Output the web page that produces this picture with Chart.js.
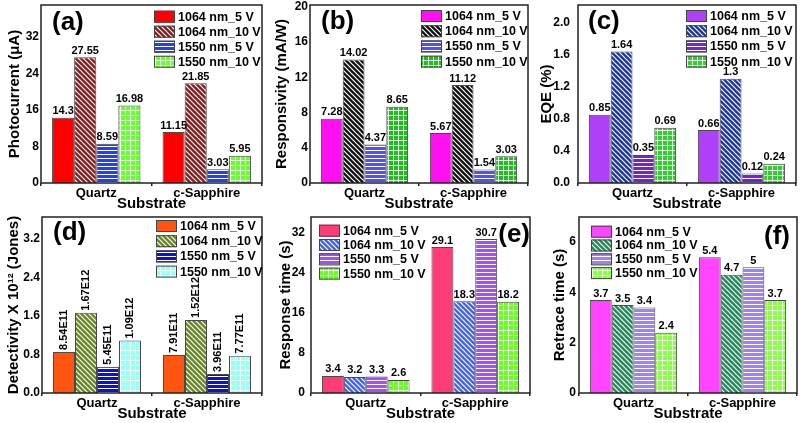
<!DOCTYPE html>
<html><head><meta charset="utf-8">
<script src="https://cdn.jsdelivr.net/npm/chart.js@4.4.1/dist/chart.umd.min.js"></script>
<style>
html,body{margin:0;padding:0;background:#fff;width:800px;height:423px;overflow:hidden;position:relative}
canvas{position:absolute}
</style></head><body>
<canvas id="pa" width="268" height="212" style="left:0px;top:0px"></canvas>
<canvas id="pb" width="264" height="212" style="left:268px;top:0px"></canvas>
<canvas id="pc" width="268" height="212" style="left:532px;top:0px"></canvas>
<canvas id="pd" width="268" height="212" style="left:0px;top:210px"></canvas>
<canvas id="pe" width="264" height="212" style="left:268px;top:210px"></canvas>
<canvas id="pf" width="268" height="212" style="left:532px;top:210px"></canvas>
<script>
// ---------- DATA ----------
const categories = ['Quartz', 'c-Sapphire'];
const seriesNames = ['1064 nm_5 V', '1064 nm_10 V', '1550 nm_5 V', '1550 nm_10 V'];

// (a) Photocurrent (μA)
const photocurrent1064nm5V  = [14.3, 11.15];
const photocurrent1064nm10V = [27.55, 21.85];
const photocurrent1550nm5V  = [8.59, 3.03];
const photocurrent1550nm10V = [16.98, 5.95];
const photocurrentTicks = [0, 8, 16, 24, 32];

// (b) Responsivity (mA/W)
const responsivity1064nm5V  = [7.28, 5.67];
const responsivity1064nm10V = [14.02, 11.12];
const responsivity1550nm5V  = [4.37, 1.54];
const responsivity1550nm10V = [8.65, 3.03];
const responsivityTicks = [0, 4, 8, 12, 16, 20];

// (c) EQE (%)
const eqe1064nm5V  = [0.85, 0.66];
const eqe1064nm10V = [1.64, 1.3];
const eqe1550nm5V  = [0.35, 0.12];
const eqe1550nm10V = [0.69, 0.24];
const eqeTicks = [0.0, 0.4, 0.8, 1.2, 1.6, 2.0];

// (d) Detectivity (Jones)
const detectivity1064nm5V  = [8.54e11, 7.91e11];
const detectivity1064nm10V = [1.67e12, 1.52e12];
const detectivity1550nm5V  = [5.45e11, 3.96e11];
const detectivity1550nm10V = [1.09e12, 7.77e11];
const detectivityTicks = [0.0, 0.8, 1.6, 2.4, 3.2];

// (e) Response time (s)
const response1064nm5V  = [3.4, 29.1];
const response1064nm10V = [3.2, 18.3];
const response1550nm5V  = [3.3, 30.7];
const response1550nm10V = [2.6, 18.2];
const responseTicks = [0, 8, 16, 24, 32];

// (f) Retrace time (s)
const retrace1064nm5V  = [3.7, 5.4];
const retrace1064nm10V = [3.5, 4.7];
const retrace1550nm5V  = [3.4, 5.0];
const retrace1550nm10V = [2.4, 3.7];
const retraceTicks = [0, 2, 4, 6];

// ---------- HELPERS ----------
const FONT = '"Liberation Sans", Arial, Helvetica, sans-serif';
Chart.defaults.font.family = FONT;
Chart.defaults.color = '#000';

function makeFill(color, kind) {
  if (kind === 'solid') return color;
  const c = document.createElement('canvas');
  const x = c.getContext('2d');
  if (kind === 'diag') {
    const s = 5; c.width = s; c.height = s;
    x.fillStyle = color; x.fillRect(0, 0, s, s);
    x.strokeStyle = '#fff'; x.lineWidth = 1.2;
    x.beginPath();
    x.moveTo(-1, -1); x.lineTo(s + 1, s + 1);
    x.moveTo(-1, s - 1); x.lineTo(1, s + 1);
    x.moveTo(s - 1, -1); x.lineTo(s + 1, 1);
    x.stroke();
  } else if (kind === 'hline') {
    c.width = 4; c.height = 4;
    x.fillStyle = color; x.fillRect(0, 0, 4, 4);
    x.fillStyle = '#fff'; x.fillRect(0, 2, 4, 1);
  } else if (kind === 'grid') {
    c.width = 5; c.height = 5;
    x.fillStyle = color; x.fillRect(0, 0, 5, 5);
    x.fillStyle = 'rgba(255,255,255,0.85)'; x.fillRect(0, 0, 5, 1); x.fillRect(0, 1, 1, 4);
  }
  return x.createPattern(c, 'repeat');
}

const decorPlugin = {
  id: 'decor',
  afterDatasetsDraw(chart) {
    const o = chart.options.plugins.decor;
    const ctx = chart.ctx, ca = chart.chartArea;
    ctx.save();
    // value labels
    ctx.fillStyle = '#000';
    ctx.font = 'bold 11px ' + FONT;
    chart.data.datasets.forEach((ds, di) => {
      const meta = chart.getDatasetMeta(di);
      meta.data.forEach((bar, i) => {
        const txt = ds.valueLabels[i];
        if (o.rotateLabels) {
          ctx.save();
          ctx.translate(bar.x, bar.y - 2);
          ctx.rotate(-Math.PI / 2);
          ctx.textAlign = 'left'; ctx.textBaseline = 'middle';
          ctx.fillText(txt, 0, 0);
          ctx.restore();
        } else {
          ctx.textAlign = 'center'; ctx.textBaseline = 'bottom';
          ctx.fillText(txt, bar.x, bar.y - 1);
        }
      });
    });
    // frame
    ctx.strokeStyle = '#222'; ctx.lineWidth = 1.5;
    ctx.strokeRect(ca.left, ca.top, ca.right - ca.left, ca.bottom - ca.top);
    // legend
    const L = o.legend;
    ctx.font = 'bold 12.5px ' + FONT;
    ctx.textAlign = 'left'; ctx.textBaseline = 'middle';
    chart.data.datasets.forEach((ds, di) => {
      const bx = ca.left + L.x, yc = ca.top + L.y + di * L.gap;
      ctx.fillStyle = ds.backgroundColor;
      ctx.fillRect(bx, yc - 6, 21, 12);
      ctx.strokeStyle = '#444'; ctx.lineWidth = 1;
      ctx.strokeRect(bx + 0.5, yc - 5.5, 20, 11);
      ctx.fillStyle = '#000';
      ctx.fillText(ds.label, bx + 24, yc + 0.5);
    });
    // panel letter
    ctx.font = 'bold 26px ' + FONT;
    ctx.textBaseline = 'middle';
    if (o.letterAlign === 'right') {
      ctx.textAlign = 'right';
      ctx.fillText(o.letter, ca.right - o.letterX, ca.top + o.letterY);
    } else {
      ctx.textAlign = 'left';
      ctx.fillText(o.letter, ca.left + o.letterX, ca.top + o.letterY);
    }
    ctx.restore();
  }
};

function buildChart(p) {
  const datasets = p.series.map((vals, i) => ({
    label: seriesNames[i],
    data: vals.map(v => v / (p.scaleDiv || 1)),
    valueLabels: vals.map(p.fmt),
    backgroundColor: makeFill(p.colors[i], p.kinds[i]),
    borderColor: '#4a4a4a',
    borderWidth: 1,
    barPercentage: 1.0,
    categoryPercentage: 0.8
  }));
  return new Chart(document.getElementById(p.id), {
    type: 'bar',
    data: { labels: categories, datasets },
    plugins: [decorPlugin],
    options: {
      responsive: false, animation: false, devicePixelRatio: 1,
      layout: { padding: { left: 0, top: p.padTop, right: p.padRight, bottom: 0 } },
      plugins: {
        legend: { display: false }, tooltip: { enabled: false },
        decor: { legend: p.legend, letter: p.letter, letterX: p.letterX, letterY: p.letterY,
                 letterAlign: p.letterAlign || 'left', rotateLabels: !!p.rotateLabels }
      },
      scales: {
        x: {
          grid: { display: true, drawOnChartArea: false, drawTicks: true, tickLength: 3, color: '#222', lineWidth: 1.5, offset: true },
          border: { display: false },
          ticks: { font: { size: 13, weight: 'bold' }, padding: 0, color: '#000', maxRotation: 0 },
          title: { display: true, text: 'Substrate', font: { size: 15, weight: 'bold', lineHeight: 1 }, padding: { top: 0, bottom: 0.5 }, color: '#000' },
          afterFit: s => { s.height = 29; s.paddingLeft = 0; s.paddingRight = 0; }
        },
        y: {
          min: 0, max: p.yMax,
          grid: { display: false, drawTicks: false },
          border: { display: false },
          afterBuildTicks: s => { s.ticks = p.ticks.map(v => ({ value: v })); },
          ticks: { font: { size: 12, weight: 'bold' }, padding: p.tickPad, color: '#000',
                   callback: v => v.toFixed(p.tickDec) },
          title: { display: true, text: p.yTitle, font: { size: 15, weight: 'bold', lineHeight: 1 }, padding: { top: p.titlePad, bottom: 0 }, color: '#000' },
          afterFit: s => { s.width = p.yWidth; s.paddingTop = 0; s.paddingBottom = 0; }
        }
      }
    }
  });
}

const str = v => String(v);
const sci = v => v.toExponential(2).toUpperCase().replace('+', '');

buildChart({ id: 'pa', padTop: 5, padRight: 6, yWidth: 41, yMax: 39, ticks: photocurrentTicks, tickDec: 0, tickPad: 2,
  yTitle: 'Photocurrent (μA)', titlePad: 7.5, fmt: str,
  series: [photocurrent1064nm5V, photocurrent1064nm10V, photocurrent1550nm5V, photocurrent1550nm10V],
  colors: ['#ff0000', '#8b1a1a', '#2040ff', '#66ff33'], kinds: ['solid', 'diag', 'hline', 'grid'],
  legend: { x: 113, y: 11.7, gap: 15 }, letter: '(a)', letterX: 11, letterY: 17.7 });

buildChart({ id: 'pb', padTop: 5, padRight: 4, yWidth: 42, yMax: 20.2, ticks: responsivityTicks, tickDec: 0, tickPad: 2,
  yTitle: 'Responsivity (mA/W)', titlePad: 6.5, fmt: str,
  series: [responsivity1064nm5V, responsivity1064nm10V, responsivity1550nm5V, responsivity1550nm10V],
  colors: ['#ff10f0', '#111111', '#5050ff', '#22bb22'], kinds: ['solid', 'diag', 'hline', 'grid'],
  legend: { x: 111, y: 11, gap: 15.2 }, letter: '(b)', letterX: 11, letterY: 17.3 });

buildChart({ id: 'pc', padTop: 5, padRight: 4, yWidth: 46, yMax: 2.22, ticks: eqeTicks, tickDec: 1, tickPad: 8,
  yTitle: 'EQE (%)', titlePad: 7.5, fmt: str,
  series: [eqe1064nm5V, eqe1064nm10V, eqe1550nm5V, eqe1550nm10V],
  colors: ['#b040f8', '#1a33b0', '#7a1fd6', '#33cc33'], kinds: ['solid', 'diag', 'hline', 'grid'],
  legend: { x: 108, y: 11, gap: 15.2 }, letter: '(c)', letterX: 10, letterY: 16.7 });

buildChart({ id: 'pd', padTop: 7, padRight: 6, yWidth: 42, yMax: 3.66, ticks: detectivityTicks, tickDec: 1, tickPad: 2,
  yTitle: 'Detectivity X 10¹² (Jones)', titlePad: 6.5, fmt: sci, scaleDiv: 1e12, rotateLabels: true,
  series: [detectivity1064nm5V, detectivity1064nm10V, detectivity1550nm5V, detectivity1550nm10V],
  colors: ['#ff5511', '#668822', '#0a10dd', '#99ffee'], kinds: ['solid', 'diag', 'hline', 'grid'],
  legend: { x: 114, y: 9, gap: 15.2 }, letter: '(d)', letterX: 11, letterY: 16 });

buildChart({ id: 'pe', padTop: 7, padRight: 2, yWidth: 43, yMax: 35.1, ticks: responseTicks, tickDec: 0, tickPad: 6,
  yTitle: 'Response time (s)', titlePad: 10, fmt: str,
  series: [response1064nm5V, response1064nm10V, response1550nm5V, response1550nm10V],
  colors: ['#ff3c78', '#4060f0', '#a64dff', '#66ff22'], kinds: ['solid', 'diag', 'hline', 'grid'],
  legend: { x: 8, y: 13.7, gap: 14.3 }, letter: '(e)', letterX: 0, letterY: 18, letterAlign: 'right' });

buildChart({ id: 'pf', padTop: 7, padRight: 3, yWidth: 47, yMax: 7.0, ticks: retraceTicks, tickDec: 0, tickPad: 3,
  yTitle: 'Retrace time (s)', titlePad: 20.5, fmt: str,
  series: [retrace1064nm5V, retrace1064nm10V, retrace1550nm5V, retrace1550nm10V],
  colors: ['#ff44ff', '#1f8a55', '#a080ff', '#88ff44'], kinds: ['solid', 'diag', 'hline', 'grid'],
  legend: { x: 12, y: 14.7, gap: 13.8 }, letter: '(f)', letterX: 7, letterY: 19.7, letterAlign: 'right' });
</script>
</body></html>
